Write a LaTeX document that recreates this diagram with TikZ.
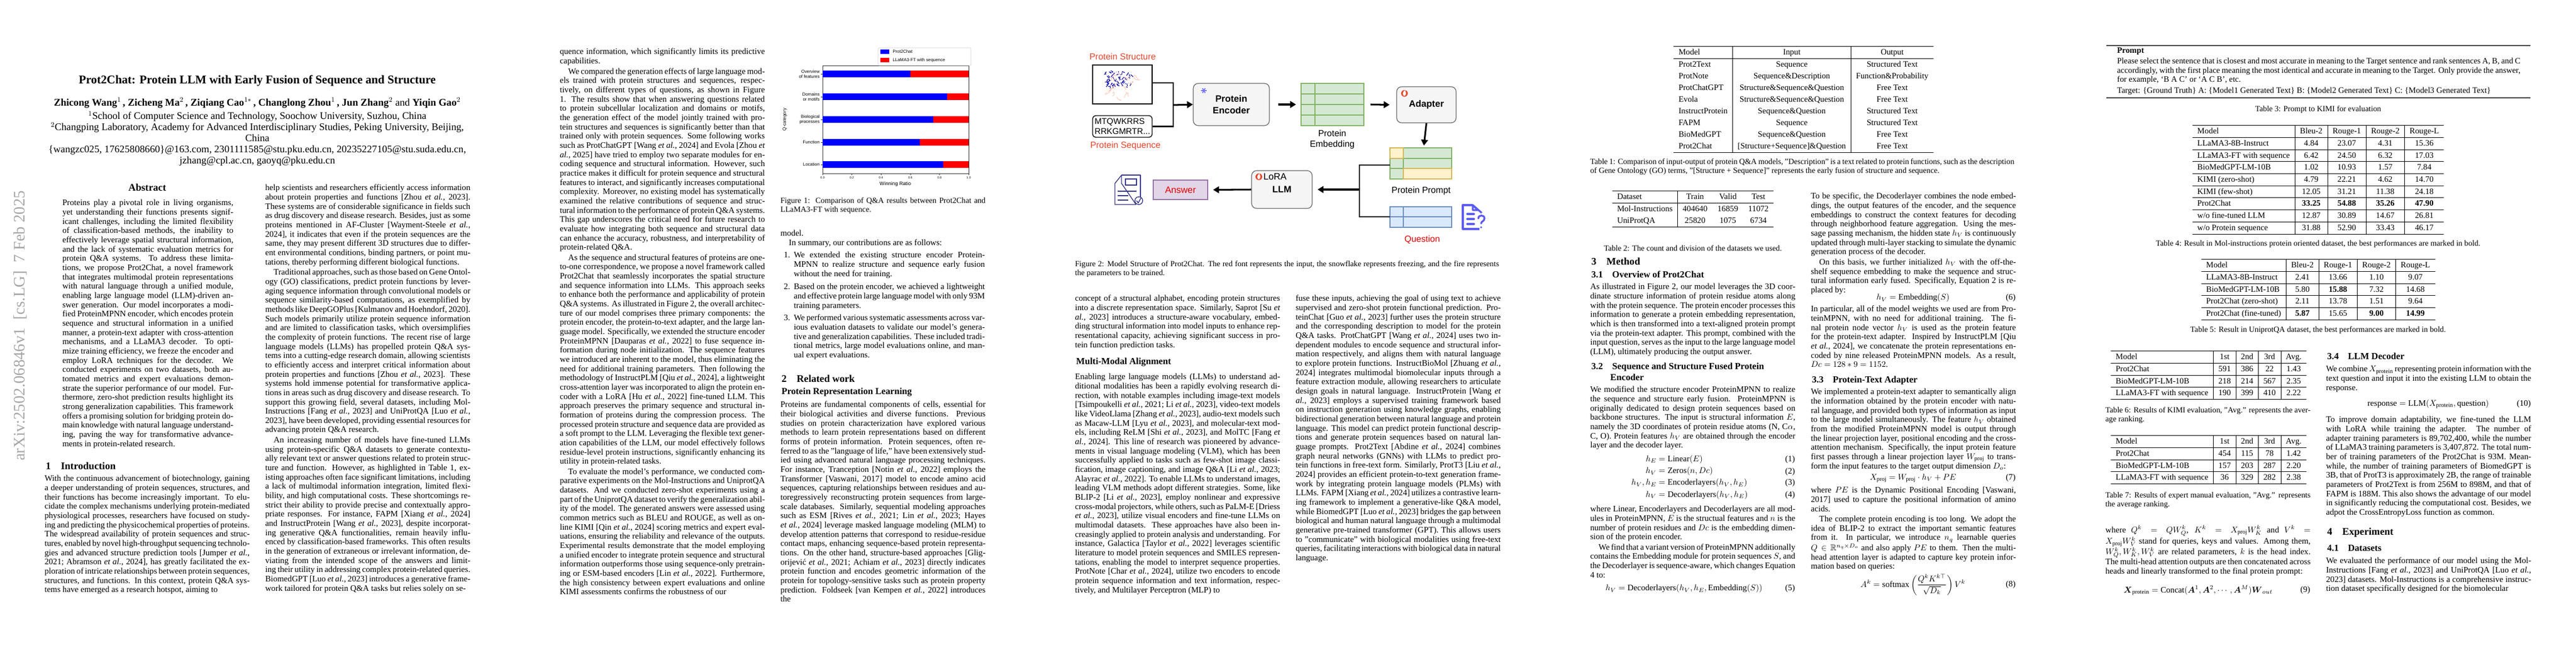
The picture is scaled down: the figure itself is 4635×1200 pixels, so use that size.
\documentclass[tikz,border=0pt]{standalone}
\usepackage{fontspec}
\usepackage{amsmath,amssymb}
\setmainfont{Liberation Serif}
\newfontfamily\figsans{Liberation Sans}
\usetikzlibrary{arrows.meta,positioning}

\definecolor{embfill}{HTML}{D5E8D4}
\definecolor{embline}{HTML}{82B366}
\definecolor{ylwfill}{HTML}{FFF2CC}
\definecolor{ylwline}{HTML}{D6B656}
\definecolor{qfill}{HTML}{DAE8FC}
\definecolor{qline}{HTML}{6C8EBF}
\definecolor{ansfill}{HTML}{E1D5E7}
\definecolor{ansline}{HTML}{9673A6}
\definecolor{boxfill}{HTML}{F5F5F5}
\definecolor{inred}{HTML}{E8452C}
\definecolor{barblue}{RGB}{0,0,255}
\definecolor{barred}{RGB}{255,0,0}
\definecolor{docnavy}{HTML}{34348A}
\definecolor{docblue}{HTML}{5B5BEF}

\newcommand{\np}{\par\vspace{1.2pt}}
\newcommand{\etal}{\textit{et al.}}

\tikzset{
  body/.style={anchor=north west, inner sep=0pt, text width=243.6pt, align=justify,
    font=\fontsize{10}{11}\selectfont,
    execute at begin node={\setlength{\parindent}{1em}}},
  wide/.style={body, text width=503.7pt},
  sect/.style={anchor=west, inner sep=0pt, font=\fontsize{12}{14}\selectfont\bfseries},
  subsect/.style={anchor=west, inner sep=0pt, font=\fontsize{11}{13}\selectfont\bfseries},
  eqn/.style={inner sep=0pt, font=\fontsize{10}{11}\selectfont},
  eqno/.style={anchor=east, inner sep=0pt, font=\fontsize{10}{11}\selectfont},
  tab/.style={anchor=north, inner sep=0pt, font=\fontsize{9.8}{11.6}\selectfont},
  captxt/.style={inner sep=0pt, font=\fontsize{9.4}{11}\selectfont},
  figlbl/.style={inner sep=0pt, font=\figsans\fontsize{10.5}{13}\selectfont, align=center},
  procbox/.style={draw=black!60, fill=boxfill, rounded corners=6pt, line width=0.8pt},
  flow/.style={line width=2pt, -{Triangle[length=7pt,width=8pt]}},
  bracket/.style={line width=1.6pt},
  chartlbl/.style={inner sep=0pt, font=\figsans\fontsize{5.2}{6}\selectfont, align=right},
  rule/.style={line width=0.9pt, black!75},
}

\begin{document}
\begin{tikzpicture}[x=0.6602pt,y=-0.6602pt]
\useasboundingbox (0,0) rectangle (4635,1200);
\fill[white] (0,0) rectangle (4635,1200);

%%%%%%%%%%%%%%%%%%%% page 1
\node[gray!70, rotate=90, inner sep=0pt, font=\fontsize{19}{20}\selectfont] (stamp) at (36,586) {arXiv:2502.06846v1\ \ [cs.LG]\ \ 7 Feb 2025};

\node[inner sep=0pt, font=\fontsize{14}{16}\selectfont\bfseries] (title) at (463,145) {Prot2Chat: Protein LLM with Early Fusion of Sequence and Structure};
\node[inner sep=0pt, font=\fontsize{12}{14}\selectfont\bfseries] (authors) at (463,185) {Zhicong Wang$^1$\,, Zicheng Ma$^2$\,, Ziqiang Cao$^{1*}$\,, Changlong Zhou$^1$\,, Jun Zhang$^2$ \mdseries and\bfseries\ Yiqin Gao$^2$};
\node[anchor=north, inner sep=0pt, align=center, font=\fontsize{12}{13.2}\selectfont] (affil) at (463,200)
  {$^1$School of Computer Science and Technology, Soochow University, Suzhou, China\\
   $^2$Changping Laboratory, Academy for Advanced Interdisciplinary Studies, Peking University, Beijing,\\
   China\\
   \{wangzc025, 17625808660\}@163.com, 2301111585@stu.pku.edu.cn, 20235227105@stu.suda.edu.cn,\\
   jzhang@cpl.ac.cn, gaoyq@pku.edu.cn};

\node[inner sep=0pt, font=\fontsize{12}{14}\selectfont\bfseries] (abshead) at (265,337) {Abstract};
\node[body, text width=203pt] (abstract) at (112,359) {Proteins play a pivotal role in living organisms, yet understanding their functions presents significant challenges, including the limited flexibility of classification-based methods, the inability to effectively leverage spatial structural information, and the lack of systematic evaluation metrics for protein Q\&A systems. To address these limitations, we propose Prot2Chat, a novel framework that integrates multimodal protein representations with natural language through a unified module, enabling large language model (LLM)-driven answer generation. Our model incorporates a modified ProteinMPNN encoder, which encodes protein sequence and structural information in a unified manner, a protein-text adapter with cross-attention mechanisms, and a LLaMA3 decoder. To optimize training efficiency, we freeze the encoder and employ LoRA techniques for the decoder. We conducted experiments on two datasets, both automated metrics and expert evaluations demonstrate the superior performance of our model. Furthermore, zero-shot prediction results highlight its strong generalization capabilities. This framework offers a promising solution for bridging protein domain knowledge with natural language understanding, paving the way for transformative advancements in protein-related research.};

\node[sect] (intro) at (82,838) {1\quad Introduction};
\node[body] (introtext) at (80,855) {\noindent With the continuous advancement of biotechnology, gaining a deeper understanding of protein sequences, structures, and their functions has become increasingly important. To elucidate the complex mechanisms underlying protein-mediated physiological processes, researchers have focused on studying and predicting the physicochemical properties of proteins. The widespread availability of protein sequences and structures, enabled by novel high-throughput sequencing technologies and advanced structure prediction tools [Jumper \etal, 2021; Abramson \etal, 2024], has greatly facilitated the exploration of intricate relationships between protein sequences, structures, and functions. In this context, protein Q\&A systems have emerged as a research hotspot, aiming to};

\node[body] (p1right) at (477,332) {\noindent help scientists and researchers efficiently access information about protein properties and functions [Zhou \etal, 2023]. These systems are of considerable significance in fields such as drug discovery and disease research. Besides, just as some proteins mentioned in AF-Cluster [Wayment-Steele \etal, 2024], it indicates that even if the protein sequences are the same, they may present different 3D structures due to different environmental conditions, binding partners, or point mutations, thereby performing different biological functions.\np
Traditional approaches, such as those based on Gene Ontology (GO) classifications, predict protein functions by leveraging sequence information through convolutional models or sequence similarity-based computations, as exemplified by methods like DeepGOPlus [Kulmanov and Hoehndorf, 2020]. Such models primarily utilize protein sequence information and are limited to classification tasks, which oversimplifies the complexity of protein functions. The recent rise of large language models (LLMs) has propelled protein Q\&A systems into a cutting-edge research domain, allowing scientists to efficiently access and interpret critical information about protein properties and functions [Zhou \etal, 2023]. These systems hold immense potential for transformative applications in areas such as drug discovery and disease research. To support this growing field, several datasets, including Mol-Instructions [Fang \etal, 2023] and UniProtQA [Luo \etal, 2023], have been developed, providing essential resources for advancing protein Q\&A research.\np
An increasing number of models have fine-tuned LLMs using protein-specific Q\&A datasets to generate contextually relevant text or answer questions related to protein structure and function. However, as highlighted in Table 1, existing approaches often face significant limitations, including a lack of multimodal information integration, limited flexibility, and high computational costs. These shortcomings restrict their ability to provide precise and contextually appropriate responses. For instance, FAPM [Xiang \etal, 2024] and InstructProtein [Wang \etal, 2023], despite incorporating generative Q\&A functionalities, remain heavily influenced by classification-based frameworks. This often results in the generation of extraneous or irrelevant information, deviating from the intended scope of the answers and limiting their utility in addressing complex protein-related queries. BiomedGPT [Luo \etal, 2023] introduces a generative framework tailored for protein Q\&A tasks but relies solely on se-};

%%%%%%%%%%%%%%%%%%%% page 2
\node[body] (p2left) at (1007,87) {\noindent quence information, which significantly limits its predictive capabilities.\np
We compared the generation effects of large language models trained with protein structures and sequences, respectively, on different types of questions, as shown in Figure 1. The results show that when answering questions related to protein subcellular localization and domains or motifs, the generation effect of the model jointly trained with protein structures and sequences is significantly better than that trained only with protein sequences. Some following works such as ProtChatGPT [Wang \etal, 2024] and Evola [Zhou \etal, 2025] have tried to employ two separate modules for encoding sequence and structural information. However, such practice makes it difficult for protein sequence and structural features to interact, and significantly increases computational complexity. Moreover, no existing model has systematically examined the relative contributions of sequence and structural information to the performance of protein Q\&A systems. This gap underscores the critical need for future research to evaluate how integrating both sequence and structural data can enhance the accuracy, robustness, and interpretability of protein-related Q\&A.\np
As the sequence and structural features of proteins are one-to-one correspondence, we propose a novel framework called Prot2Chat that seamlessly incorporates the spatial structure and sequence information into LLMs. This approach seeks to enhance both the performance and applicability of protein Q\&A systems. As illustrated in Figure 2, the overall architecture of our model comprises three primary components: the protein encoder, the protein-to-text adapter, and the large language model. Specifically, we extended the structure encoder ProteinMPNN [Dauparas \etal, 2022] to fuse sequence information during node initialization. The sequence features we introduced are inherent to the model, thus eliminating the need for additional training parameters. Then following the methodology of InstructPLM [Qiu \etal, 2024], a lightweight cross-attention layer was incorporated to align the protein encoder with a LoRA [Hu \etal, 2022] fine-tuned LLM. This approach preserves the primary sequence and structural information of proteins during the compression process. The processed protein structure and sequence data are provided as a soft prompt to the LLM. Leveraging the flexible text generation capabilities of the LLM, our model effectively follows residue-level protein instructions, significantly enhancing its utility in protein-related tasks.\np
To evaluate the model's performance, we conducted comparative experiments on the Mol-Instructions and UniprotQA datasets. And we conducted zero-shot experiments using a part of the UniprotQA dataset to verify the generalization ability of the model. The generated answers were assessed using common metrics such as BLEU and ROUGE, as well as online KIMI [Qin \etal, 2024] scoring metrics and expert evaluations, ensuring the reliability and relevance of the outputs. Experimental results demonstrate that the model employing a unified encoder to integrate protein sequence and structural information outperforms those using sequence-only pretraining or ESM-based encoders [Lin \etal, 2022]. Furthermore, the high consistency between expert evaluations and online KIMI assessments confirms the robustness of our};

% Figure 1: bar chart
\draw[black!80, line width=0.5pt] (1480,118) rectangle (1743,312);
\foreach \yc/\v in {133/0.60,174/0.85,215/0.755,256/0.665,296/0.825} {
  \fill[barblue] (1480,\yc-6) rectangle (1480+263*\v,\yc+6);
  \fill[barred] (1480+263*\v,\yc-6) rectangle (1743,\yc+6);
  \draw[black!80, line width=0.4pt] (1477,\yc) -- (1480,\yc);
}
\node[chartlbl, anchor=east] (cat1) at (1475,133) {Overview\\of features};
\node[chartlbl, anchor=east] (cat2) at (1475,174) {Domains\\or motifs};
\node[chartlbl, anchor=east] (cat3) at (1475,215) {Biological\\processes};
\node[chartlbl, anchor=east] (cat4) at (1475,256) {Function};
\node[chartlbl, anchor=east] (cat5) at (1475,296) {Location};
\foreach \t/\lbl in {0/0.0,1/0.2,2/0.4,3/0.6,4/0.8,5/1.0} {
  \draw[black!80, line width=0.4pt] (1480+52.6*\t,312) -- (1480+52.6*\t,315);
  \node[inner sep=0pt, font=\figsans\fontsize{3.6}{4}\selectfont] (tick\t) at (1480+52.6*\t,320) {\lbl};
}
\node[inner sep=0pt, font=\figsans\fontsize{6}{7}\selectfont] (xlabel) at (1611,331) {Winning Ratio};
\node[inner sep=0pt, rotate=90, font=\figsans\fontsize{5.4}{6}\selectfont] (ylabel) at (1412,215) {Q-category};
\draw[black!20, fill=white, rounded corners=1pt] (1580,86) rectangle (1747,118);
\fill[barblue] (1584,89) rectangle (1600,97);
\fill[barred] (1584,104) rectangle (1600,112);
\node[chartlbl, anchor=west] (leg1) at (1606,93) {Prot2Chat};
\node[chartlbl, anchor=west] (leg2) at (1606,108) {LLaMA3-FT with sequence};
\node[body, captxt] (fig1cap) at (1404,355) {Figure 1:\ \ Comparison of Q\&A results between Prot2Chat and LLaMA3-FT with sequence.};

\node[body] (p2right) at (1404,414) {\noindent model.\par In summary, our contributions are as follows:};
\node[body, anchor=north east, text width=8pt, align=right] (n1) at (1422,453) {1.};
\node[body, text width=227pt] (item1) at (1428,453) {We extended the existing structure encoder ProteinMPNN to realize structure and sequence early fusion without the need for training.};
\node[body, anchor=north east, text width=8pt, align=right] (n2) at (1422,510) {2.};
\node[body, text width=227pt] (item2) at (1428,510) {Based on the protein encoder, we achieved a lightweight and effective protein large language model with only 93M training parameters.};
\node[body, anchor=north east, text width=8pt, align=right] (n3) at (1422,566) {3.};
\node[body, text width=227pt] (item3) at (1428,566) {We performed various systematic assessments across various evaluation datasets to validate our model's generative and generalization capabilities. These included traditional metrics, large model evaluations online, and manual expert evaluations.};

\node[sect] (related) at (1406,681) {2\quad Related work};
\node[subsect] (reprhead) at (1406,706) {Protein Representation Learning};
\node[body] (repr) at (1404,722) {\noindent Proteins are fundamental components of cells, essential for their biological activities and diverse functions. Previous studies on protein characterization have explored various methods to learn protein representations based on different forms of protein information. Protein sequences, often referred to as the ''language of life,'' have been extensively studied using advanced natural language processing techniques. For instance, Tranception [Notin \etal, 2022] employs the Transformer [Vaswani, 2017] model to encode amino acid sequences, capturing relationships between residues and autoregressively reconstructing protein sequences from large-scale databases. Similarly, sequential modeling approaches such as ESM [Rives \etal, 2021; Lin \etal, 2023; Hayes \etal, 2024] leverage masked language modeling (MLM) to develop attention patterns that correspond to residue-residue contact maps, enhancing sequence-based protein representations. On the other hand, structure-based approaches [Gligorijević \etal, 2021; Achiam \etal, 2023] directly indicates protein function and encodes geometric information of the protein for topology-sensitive tasks such as protein property prediction. Foldseek [van Kempen \etal, 2022] introduces the};

%%%%%%%%%%%%%%%%%%%% page 3 : Figure 2
\node[figlbl, text=inred] (structlbl) at (2020,102) {Protein Structure};
\draw[black, line width=0.9pt] (1966,117) rectangle (2073,187);
\coordinate (struct) at (2073,149);
\pgfmathsetseed{7}
\foreach \i in {1,...,70} {
  \pgfmathsetmacro{\px}{1990+rnd*45}
  \pgfmathsetmacro{\py}{128+rnd*28}
  \draw[blue!65!black, line width=0.7pt] (\px,\py) -- ++(rand*5,rand*5);
}
\foreach \i in {1,...,18} {
  \pgfmathsetmacro{\px}{1985+rnd*70}
  \pgfmathsetmacro{\py}{130+rnd*50}
  \draw[orange!50!red!40, line width=0.4pt] (\px,\py) .. controls +(rand*8,rand*8) and +(rand*8,rand*8) .. ++(rand*10,rand*10);
}
\node[draw, rounded corners=4pt, line width=0.9pt, minimum width=107*0.6602pt, minimum height=39*0.6602pt, inner sep=1pt, align=left, font=\figsans\fontsize{10}{12}\selectfont] (seq) at (2019.5,227.5) {MTQWKRRS\\RRKGMRTR...};
\node[figlbl, text=inred] (seqlbl) at (2025,262) {Protein Sequence};

\node[procbox, minimum width=137*0.6602pt, minimum height=76*0.6602pt, align=center, font=\figsans\fontsize{11}{14}\selectfont\bfseries] (enc) at (2215.5,188) {Protein\\Encoder};
% snowflake
\foreach \a in {0,60,120} \draw[blue!55, line width=1.1pt] (2166,163) ++(\a:5) -- ++(\a+180:10);
\coordinate (junc) at (2111,189);
\draw[bracket] (struct) -| (junc);
\draw[bracket] (seq.east) -| (junc);
\draw[flow] (junc) -- (enc.west);

% protein embedding grid
\fill[embfill] (2341,150) rectangle (2454,226);
\draw[embline, line width=0.9pt] (2341,150) rectangle (2454,226);
\foreach \r in {169,188,207} \draw[embline, line width=0.9pt] (2341,\r) -- (2454,\r);
\draw[embline, line width=0.9pt] (2366,150) -- (2366,226);
\coordinate (emb) at (2341,188);
\coordinate (embout) at (2454,188);
\node[figlbl] (emblbl) at (2397,251) {Protein\\Embedding};
\draw[flow] ([xshift=10]enc.east) -- ([xshift=-6]emb);

\node[procbox, minimum width=107*0.6602pt, minimum height=65*0.6602pt, font=\figsans\fontsize{11}{14}\selectfont\bfseries] (adapter) at (2566.5,188.5) {Adapter};
\fill[inred] (2527,168) circle (6);
\fill[white] (2527,173) .. controls (2523,171) and (2523,166) .. (2528,162) .. controls (2529,166) and (2532,169) .. (2527,173);
\draw[flow] ([xshift=8]embout) -- ([xshift=-8]adapter.west);

% protein prompt grid
\fill[embfill] (2501,266) rectangle (2612,322);
\fill[ylwfill] (2501,266) rectangle (2525,285);
\fill[ylwfill] (2525,303) rectangle (2612,322);
\draw[embline, line width=0.9pt] (2501,266) rectangle (2612,322);
\foreach \r in {285,303} \draw[embline, line width=0.9pt] (2501,\r) -- (2612,\r);
\draw[embline, line width=0.9pt] (2525,266) -- (2525,322);
\draw[ylwline, line width=0.9pt] (2501,266) rectangle (2525,285);
\draw[ylwline, line width=0.9pt] (2525,303) rectangle (2612,322);
\coordinate (prompt) at (2501,297);
\coordinate (promptin) at (2562,262);
\node[figlbl] (promptlbl) at (2557,343) {Protein Prompt};
\draw[flow] (adapter.south) -- (promptin);

% question grid
\fill[qfill] (2501,372) rectangle (2612,409);
\draw[qline, line width=0.9pt] (2501,372) rectangle (2612,409);
\draw[qline, line width=0.9pt] (2501,390) -- (2612,390);
\draw[qline, line width=0.9pt] (2525,372) -- (2525,409);
\coordinate (question) at (2501,390);
\node[figlbl, text=red!90!black] (questionlbl) at (2559,431) {Question};
% question document icon
\draw[docblue, line width=2.2pt, line join=round] (2650,369) -- (2632,369) -- (2632,412) -- (2662,412);
\draw[docblue, line width=2.2pt, line join=round] (2650,369) -- (2650,378) -- (2659,378) -- cycle;
\draw[docblue, line width=2.2pt] (2650,369) -- (2666,383);
\foreach \r in {385,394,403} \draw[docblue, line width=2.4pt, line cap=round] (2640,\r) -- (2652,\r);
\draw[docblue, line width=2.2pt, line cap=round] (2660,393) .. controls (2660,386) and (2671,386) .. (2671,393) .. controls (2671,398) and (2665,398) .. (2665,402);
\fill[docblue] (2665,409) circle (1.8);

\node[procbox, minimum width=109*0.6602pt, minimum height=68*0.6602pt, font=\figsans\fontsize{11}{14}\selectfont\bfseries] (llm) at (2306.5,341) {LLM};
\fill[inred] (2265,318) circle (6);
\fill[white] (2265,323) .. controls (2261,321) and (2261,316) .. (2266,312) .. controls (2267,316) and (2270,319) .. (2265,323);
\node[inner sep=0pt, anchor=west, font=\figsans\fontsize{11}{14}\selectfont] (loralbl) at (2273,318) {LoRA};
\coordinate (merge) at (2446,341);
\draw[bracket] (prompt) -| (merge);
\draw[bracket] (question) -| (merge);
\draw[flow] (merge) -- ([xshift=6]llm.east);

\node[draw=ansline, fill=ansfill, line width=0.9pt, minimum width=98*0.6602pt, minimum height=35*0.6602pt, text=red!90!black, font=\figsans\fontsize{11}{14}\selectfont] (answer) at (2124,341.5) {Answer};
\draw[flow] (llm.west) -- ([xshift=6]answer.east);
% answer document icon
\draw[docnavy, line width=0.9pt, line join=round] (2018,315) -- (2052,315) -- (2052,355);
\draw[docnavy, line width=0.9pt, line join=round] (2044,368) -- (2006,368) -- (2006,330) -- (2018,315) -- (2018,330) -- cycle;
\draw[docnavy, line width=0.9pt] (2025,322) rectangle (2045,333);
\foreach \r/\e in {344/2045,352/2030,360/2030} \draw[docnavy, line width=0.9pt] (2011,\r) -- (\e,\r);
\draw[docnavy, line width=0.9pt] (2049,361) circle (7);
\draw[docnavy, line width=0.9pt] (2045,361) -- (2048,365) -- (2053,356);

\node[wide, captxt] (fig2cap) at (1934,469) {Figure 2: Model Structure of Prot2Chat. The red font represents the input, the snowflake represents freezing, and the fire represents the parameters to be trained.};

\node[body] (p3left) at (1934,531) {\noindent concept of a structural alphabet, encoding protein structures into a discrete representation space. Similarly, Saprot [Su \etal, 2023] introduces a structure-aware vocabulary, embedding structural information into model inputs to enhance representational capacity, achieving significant success in protein function prediction tasks.};
\node[subsect] (mmhead) at (1936,652) {Multi-Modal Alignment};
\node[body] (mmtext) at (1934,672) {\noindent Enabling large language models (LLMs) to understand additional modalities has been a rapidly evolving research direction, with notable examples including image-text models [Tsimpoukelli \etal, 2021; Li \etal, 2023], video-text models like VideoLlama [Zhang \etal, 2023], audio-text models such as Macaw-LLM [Lyu \etal, 2023], and molecular-text models, including ReLM [Shi \etal, 2023], and MolTC [Fang \etal, 2024]. This line of research was pioneered by advancements in visual language modeling (VLM), which has been successfully applied to tasks such as few-shot image classification, image captioning, and image Q\&A [Li \etal, 2023; Alayrac \etal, 2022]. To enable LLMs to understand images, leading VLM methods adopt different strategies. Some, like BLIP-2 [Li \etal, 2023], employ nonlinear and expressive cross-modal projectors, while others, such as PaLM-E [Driess \etal, 2023], utilize visual encoders and fine-tune LLMs on multimodal datasets. These approaches have also been increasingly applied to protein analysis and understanding. For instance, Galactica [Taylor \etal, 2022] leverages scientific literature to model protein sequences and SMILES representations, enabling the model to interpret sequence properties. ProtNote [Char \etal, 2024], utilize two encoders to encode protein sequence information and text information, respectively, and Multilayer Perceptron (MLP) to};
\node[body] (p3right) at (2331,531) {\noindent fuse these inputs, achieving the goal of using text to achieve supervised and zero-shot protein functional prediction. ProteinChat [Guo \etal, 2023] further uses the protein structure and the corresponding description to model for the protein Q\&A tasks. ProtChatGPT [Wang \etal, 2024] uses two independent modules to encode sequence and structural information respectively, and aligns them with natural language to explore protein functions. InstructBioMol [Zhuang \etal, 2024] integrates multimodal biomolecular inputs through a feature extraction module, allowing researchers to articulate design goals in natural language. InstructProtein [Wang \etal, 2023] employs a supervised training framework based on instruction generation using knowledge graphs, enabling bidirectional generation between natural language and protein language. This model can predict protein functional descriptions and generate protein sequences based on natural language prompts. Prot2Text [Abdine \etal, 2024] combines graph neural networks (GNNs) with LLMs to predict protein functions in free-text form. Similarly, ProtT3 [Liu \etal, 2024] provides an efficient protein-to-text generation framework by integrating protein language models (PLMs) with LLMs. FAPM [Xiang \etal, 2024] utilizes a contrastive learning framework to implement a generative-like Q\&A model, while BiomedGPT [Luo \etal, 2023] bridges the gap between biological and human natural language through a multimodal generative pre-trained transformer (GPT). This allows users to ''communicate'' with biological modalities using free-text queries, facilitating interactions with biological data in natural language.};

%%%%%%%%%%%%%%%%%%%% page 4
\node[tab] (table1) at (3245,83) {\renewcommand{\arraystretch}{1.2}%
\begin{tabular}{l|c|c}
\hline
Model & Input & Output\\ \hline
Prot2Text & Sequence & Structured Text\\
ProtNote & Sequence\&Description & Function\&Probability\\
ProtChatGPT & Structure\&Sequence\&Question & Free Text\\
Evola & Structure\&Sequence\&Question & Free Text\\
InstructProtein & Sequence\&Question & Structured Text\\
FAPM & Sequence & Structured Text\\
BioMedGPT & Sequence\&Question & Free Text\\
Prot2Chat & [Structure+Sequence]\&Question & Free Text\\ \hline
\end{tabular}};
\node[wide, captxt] (tab1cap) at (2861,285) {Table 1: Comparison of input-output of protein Q\&A models, ”Description” is a text related to protein functions, such as the description of Gene Ontology (GO) terms, ”[Structure + Sequence]” represents the early fusion of structure and sequence.};

\node[tab] (table2) at (3046,343) {\renewcommand{\arraystretch}{1.2}%
\begin{tabular}{l|ccc}
\hline
Dataset & Train & Valid & Test\\ \hline
Mol-Instructions & 404640 & 16859 & 11072\\
UniProtQA & 25820 & 1075 & 6734\\ \hline
\end{tabular}};
\node[captxt] (tab2cap) at (3046,447) {Table 2: The count and division of the datasets we used.};

\node[sect] (method) at (2863,470) {3\quad Method};
\node[subsect] (s31) at (2863,494) {3.1\quad Overview of Prot2Chat};
\node[body] (s31text) at (2861,510) {\noindent As illustrated in Figure 2, our model leverages the 3D coordinate structure information of protein residue atoms along with the protein sequence. The protein encoder processes this information to generate a protein embedding representation, which is then transformed into a text-aligned protein prompt via the protein-text adapter. This prompt, combined with the input question, serves as the input to the large language model (LLM), ultimately producing the output answer.};
\node[subsect, anchor=north west, align=left] (s32) at (2863,653) {3.2\quad Sequence and Structure Fused Protein\\\hspace*{2.05em}Encoder};
\node[body] (s32text) at (2861,695) {\noindent We modified the structure encoder ProteinMPNN to realize the sequence and structure early fusion. ProteinMPNN is originally dedicated to design protein sequences based on backbone structures. The input is structural information $E$, namely the 3D coordinates of protein residue atoms (N, C$\alpha$, C, O). Protein features $h_V$ are obtained through the encoder layer and the decoder layer.};
\node[eqn] (eq1to4) at (3040,859) {$\begin{aligned}
h_E &= \mathrm{Linear}(E)\\
h_V &= \mathrm{Zeros}(n, Dc)\\
h_V, h_E &= \mathrm{Encoderlayers}(h_V, h_E)\\
h_V &= \mathrm{Decoderlayers}(h_V, h_E)
\end{aligned}$};
\foreach \yc/\n in {827/1,849/2,869/3,891/4} \node[eqno] (eqno\n) at (3230,\yc) {(\n)};
\node[body] (s32b) at (2861,910) {\noindent where Linear, Encoderlayers and Decoderlayers are all modules in ProteinMPNN, $E$ is the structual features and $n$ is the number of protein residues and $Dc$ is the embedding dimension of the protein encoder.\np
We find that a variant version of ProteinMPNN additionally contains the Embedding module for protein sequences $S$, and the Decoderlayer is sequence-aware, which changes Equation 4 to:};
\node[eqn] (eq5) at (3030,1059) {$h_V = \mathrm{Decoderlayers}(h_V, h_E, \mathrm{Embedding}(S))$};
\node[eqno] (eqno5) at (3230,1059) {(5)};

\node[body] (p4right) at (3258,347) {\noindent To be specific, the Decoderlayer combines the node embeddings, the output features of the encoder, and the sequence embeddings to construct the context features for decoding through neighborhood feature aggregation. Using the message passing mechanism, the hidden state $h_V$ is continuously updated through multi-layer stacking to simulate the dynamic generation process of the decoder.\np
On this basis, we further initialized $h_V$ with the off-the-shelf sequence embedding to make the sequence and structural information early fused. Specifically, Equation 2 is replaced by:};
\node[eqn] (eq6) at (3442,536) {$h_V = \mathrm{Embedding}(S)$};
\node[eqno] (eqno6) at (3627,536) {(6)};
\node[body] (p4r2) at (3258,550) {In particular, all of the model weights we used are from ProteinMPNN, with no need for additional training. The final protein node vector $h_V$ is used as the protein feature for the protein-text adapter. Inspired by InstructPLM [Qiu \etal, 2024], we concatenate the protein representations encoded by nine released ProteinMPNN models. As a result, $Dc = 128*9 = 1152$.};
\node[subsect] (s33) at (3260,684) {3.3\quad Protein-Text Adapter};
\node[body] (s33text) at (3258,699) {\noindent We implemented a protein-text adapter to semantically align the information obtained by the protein encoder with natural language, and provided both types of information as input to the large model simultaneously. The feature $h_V$ obtained from the modified ProteinMPNN model is output through the linear projection layer, positional encoding and the cross-attention mechanism. Specifically, the input protein feature first passes through a linear projection layer $W_{\mathrm{proj}}$ to transform the input features to the target output dimension $D_o$:};
\node[eqn] (eq7) at (3442,860) {$X_{\mathrm{proj}} = W_{\mathrm{proj}}\cdot h_V + PE$};
\node[eqno] (eqno7) at (3627,860) {(7)};
\node[body] (s33b) at (3258,876) {\noindent where $PE$ is the Dynamic Positional Encoding [Vaswani, 2017] used to capture the positional information of amino acids.\np
The complete protein encoding is too long. We adopt the idea of BLIP-2 to extract the important semantic features from it. In particular, we introduce $n_q$ learnable queries $Q\in\mathbb{R}^{n_q\times D_o}$ and also apply $PE$ to them. Then the multi-head attention layer is adapted to capture key protein information based on queries:};
\node[eqn] (eq8) at (3442,1052) {$A^k = \mathrm{softmax}\left(\dfrac{Q^kK^{k\top}}{\sqrt{D_k}}\right)V^k$};
\node[eqno] (eqno8) at (3627,1052) {(8)};

%%%%%%%%%%%%%%%%%%%% page 5
\draw[rule] (3790,82) -- (4553,82);
\draw[rule] (3790,176) -- (4553,176);
\node[body, text width=479pt, font=\fontsize{9.8}{10.9}\selectfont] (prompt3) at (3809,85) {\noindent\textbf{Prompt}\par\vspace{2pt}
\noindent Please select the sentence that is closest and most accurate in meaning to the Target sentence and rank sentences A, B, and C accordingly, with the first place meaning the most identical and accurate in meaning to the Target. Only provide the answer, for example, ‘B A C’ or ‘A C B’, etc.\par\vspace{2pt}
\noindent Target: \{Ground Truth\} A: \{Model1 Generated Text\} B: \{Model2 Generated Text\} C: \{Model3 Generated Text\}};
\node[captxt] (tab3cap) at (4171,197) {Table 3: Prompt to KIMI for evaluation};

\node[tab] (table4) at (4171,225) {\renewcommand{\arraystretch}{1.2}%
\begin{tabular}{l|c|c|c|c}
\hline
Model & Bleu-2 & Rouge-1 & Rouge-2 & Rouge-L\\ \hline
LLaMA3-8B-Instruct & 4.84 & 23.07 & 4.31 & 15.36\\ \hline
LLaMA3-FT with sequence & 6.42 & 24.50 & 6.32 & 17.03\\ \hline
BioMedGPT-LM-10B & 1.02 & 10.93 & 1.57 & 7.84\\ \hline
KIMI (zero-shot) & 4.79 & 22.21 & 4.62 & 14.70\\ \hline
KIMI (few-shot) & 12.05 & 31.21 & 11.38 & 24.18\\ \hline
Prot2Chat & \textbf{33.25} & \textbf{54.88} & \textbf{35.26} & \textbf{47.90}\\ \hline
w/o fine-tuned LLM & 12.87 & 30.89 & 14.67 & 26.81\\ \hline
w/o Protein sequence & 31.88 & 52.90 & 33.43 & 46.17\\ \hline
\end{tabular}};
\node[captxt] (tab4cap) at (4171,439) {Table 4: Result in Mol-instructions protein oriented dataset, the best performances are marked in bold.};

\node[tab] (table5) at (4171,466) {\renewcommand{\arraystretch}{1.2}%
\begin{tabular}{l|c|c|c|c}
\hline
Model & Bleu-2 & Rouge-1 & Rouge-2 & Rouge-L\\ \hline
LLaMA3-8B-Instruct & 2.41 & 13.66 & 1.10 & 9.07\\ \hline
BioMedGPT-LM-10B & 5.80 & \textbf{15.88} & 7.32 & 14.68\\ \hline
Prot2Chat (zero-shot) & 2.11 & 13.78 & 1.51 & 9.64\\ \hline
Prot2Chat (fine-tuned) & \textbf{5.87} & 15.65 & \textbf{9.00} & \textbf{14.99}\\ \hline
\end{tabular}};
\node[captxt] (tab5cap) at (4171,594) {Table 5: Result in UniprotQA dataset, the best performances are marked in bold.};

\node[tab] (table6) at (3974,631) {\renewcommand{\arraystretch}{1.2}%
\begin{tabular}{l|c|c|c|c}
\hline
Model & 1st & 2nd & 3rd & Avg.\\ \hline
Prot2Chat & 591 & 386 & 22 & 1.43\\ \hline
BioMedGPT-LM-10B & 218 & 214 & 567 & 2.35\\ \hline
LLaMA3-FT with sequence & 190 & 399 & 410 & 2.22\\ \hline
\end{tabular}};
\node[body, captxt] (tab6cap) at (3788,732) {Table 6: Results of KIMI evaluation, ”Avg.” represents the average ranking.};

\node[tab] (table7) at (3974,783) {\renewcommand{\arraystretch}{1.2}%
\begin{tabular}{l|c|c|c|c}
\hline
Model & 1st & 2nd & 3rd & Avg.\\ \hline
Prot2Chat & 454 & 115 & 78 & 1.42\\ \hline
BioMedGPT-LM-10B & 157 & 203 & 287 & 2.20\\ \hline
LLaMA3-FT with sequence & 36 & 329 & 282 & 2.38\\ \hline
\end{tabular}};
\node[body, captxt] (tab7cap) at (3788,885) {Table 7: Results of expert manual evaluation, ”Avg.” represents the average ranking.};

\node[body] (p5left) at (3788,945) {\noindent where $Q^k = QW_Q^k$, $K^k = X_{\mathrm{proj}}W_K^k$ and $V^k = X_{\mathrm{proj}}W_V^k$ stand for queries, keys and values. Among them, $W_Q^k, W_K^k, W_V^k$ are related parameters, $k$ is the head index. The multi-head attention outputs are then concatenated across heads and linearly transformed to the final protein prompt:};
\node[eqn] (eq9) at (3955,1062) {$\boldsymbol{X}_{\mathrm{protein}} = \mathrm{Concat}(\boldsymbol{A}^1, \boldsymbol{A}^2, \cdots, \boldsymbol{A}^M)\boldsymbol{W}_{out}$};
\node[eqno] (eqno9) at (4157,1062) {(9)};

\node[subsect] (s34) at (4187,641) {3.4\quad LLM Decoder};
\node[body] (s34text) at (4185,658) {\noindent We combine $X_{\mathrm{protein}}$ representing protein information with the text question and input it into the existing LLM to obtain the response.};
\node[eqn] (eq10) at (4369,727) {$\mathrm{response} = \mathrm{LLM}(X_{\mathrm{protein}}, \mathrm{question})$};
\node[eqno] (eqno10) at (4554,727) {(10)};
\node[body] (s34b) at (4185,749) {\noindent To improve domain adaptability, we fine-tuned the LLM with LoRA while training the adapter. The number of adapter training parameters is 89,702,400, while the number of LLaMA3 training parameters is 3,407,872. The total number of training parameters of the Prot2Chat is 93M. Meanwhile, the number of training parameters of BiomedGPT is 3B, that of ProtT3 is approximately 2B, the range of trainable parameters of Prot2Text is from 256M to 898M, and that of FAPM is 188M. This also shows the advantage of our model in significantly reducing the computational cost. Besides, we adpot the CrossEntropyLoss function as common.};
\node[sect] (experiment) at (4187,958) {4\quad Experiment};
\node[subsect] (s41) at (4187,986) {4.1\quad Datasets};
\node[body] (s41text) at (4185,1003) {\noindent We evaluated the performance of our model using the Mol-Instructions [Fang \etal, 2023] and UniProtQA [Luo \etal, 2023] datasets. Mol-Instructions is a comprehensive instruction dataset specifically designed for the biomolecular};

\end{tikzpicture}
\end{document}
